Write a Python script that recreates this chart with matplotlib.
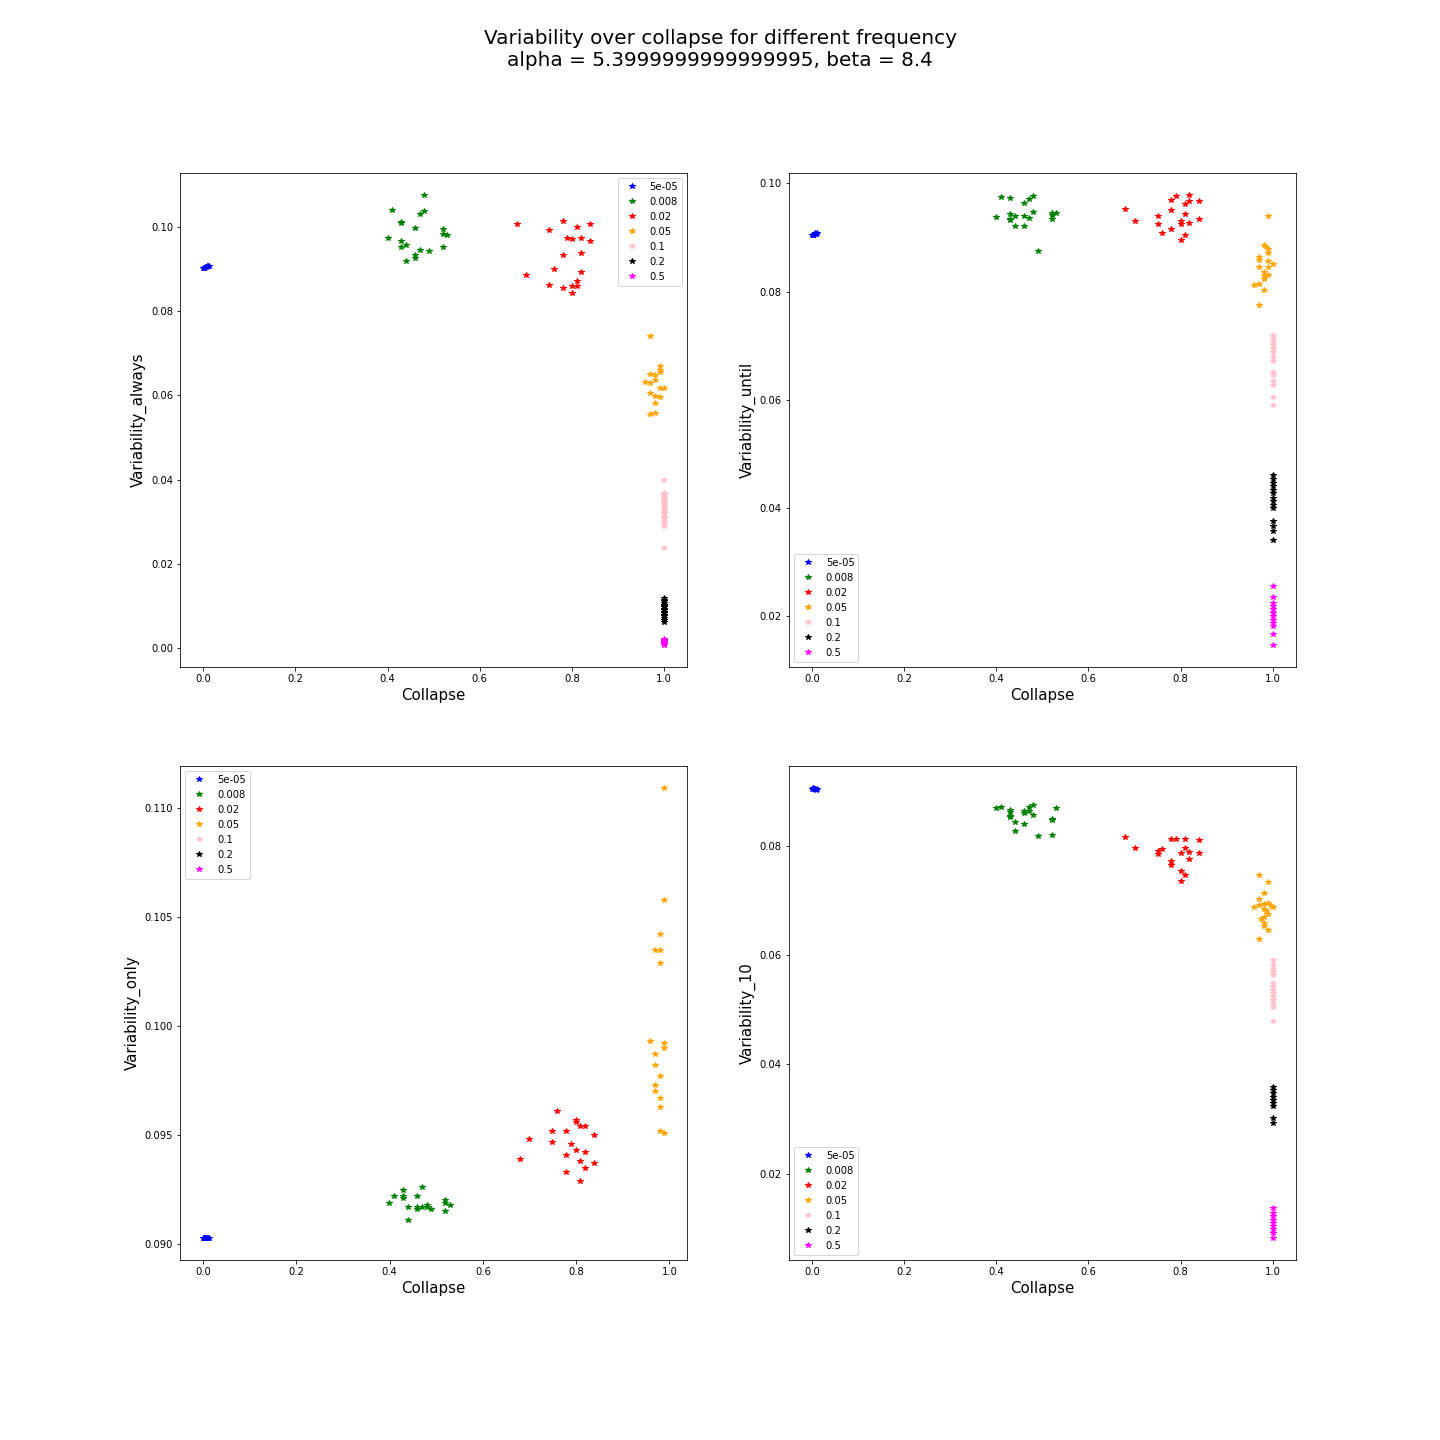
import numpy as np
import matplotlib
matplotlib.use('Agg')
import matplotlib.pyplot as plt

freqs = ['5e-05', '0.008', '0.02', '0.05', '0.1', '0.2', '0.5']
colors = ['blue', 'green', 'red', 'orange', 'pink', 'black', 'magenta']

# ---- Variability_always (top left) ----
always_x_5e05 = [0.0, 0.002, 0.004, 0.006, 0.008, 0.010, 0.012, 0.003]
always_y_5e05 = [0.0903, 0.0904, 0.0905, 0.0906, 0.0907, 0.0908, 0.0909, 0.0904]
always_x_008 = [0.479, 0.410, 0.429, 0.471, 0.479, 0.460, 0.521, 0.521, 0.529, 0.401,
                0.429, 0.429, 0.440, 0.471, 0.490, 0.521, 0.460, 0.460, 0.440, 0.429]
always_y_008 = [0.1076, 0.1040, 0.1013, 0.1032, 0.1038, 0.0998, 0.0995, 0.0984, 0.0982, 0.0974,
                0.0967, 0.0953, 0.0958, 0.0946, 0.0943, 0.0953, 0.0934, 0.0928, 0.0919, 0.1011]
always_x_02 = [0.680, 0.780, 0.750, 0.811, 0.839, 0.790, 0.800, 0.819, 0.839, 0.780,
               0.819, 0.761, 0.700, 0.819, 0.750, 0.780, 0.811, 0.800, 0.811, 0.800]
always_y_02 = [0.1007, 0.1014, 0.0993, 0.1000, 0.1007, 0.0974, 0.0972, 0.0974, 0.0967, 0.0934,
               0.0939, 0.0900, 0.0886, 0.0893, 0.0863, 0.0855, 0.0872, 0.0860, 0.0860, 0.0844]
always_x_05 = [0.970, 0.991, 0.991, 0.991, 0.970, 0.980, 0.959, 0.970, 0.980, 0.991,
               1.000, 0.970, 0.980, 0.991, 0.980, 0.970, 0.980]
always_y_05 = [0.0742, 0.0669, 0.0660, 0.0655, 0.0650, 0.0648, 0.0631, 0.0629, 0.0636, 0.0619,
               0.0619, 0.0607, 0.0598, 0.0596, 0.0581, 0.0555, 0.0558]
always_y_1 = [0.0400, 0.0369, 0.0366, 0.0363, 0.0357, 0.0355, 0.0349, 0.0347, 0.0341, 0.0339,
              0.0333, 0.0331, 0.0326, 0.0321, 0.0318, 0.0312, 0.0309, 0.0301, 0.0296, 0.0290, 0.0237]
always_y_2 = [0.0118, 0.0114, 0.0111, 0.0107, 0.0103, 0.0100, 0.0097, 0.0093, 0.0090, 0.0086,
              0.0083, 0.0079, 0.0075, 0.0071, 0.0066, 0.0061]
always_y_5 = [0.0022, 0.0019, 0.0017, 0.0015, 0.0013, 0.0012, 0.0010, 0.0009, 0.0008]

# ---- Variability_until (top right) ----
until_x_5e05 = [0.0, 0.002, 0.004, 0.006, 0.008, 0.010, 0.012, 0.003]
until_y_5e05 = [0.0904, 0.0905, 0.0906, 0.0907, 0.0908, 0.0906, 0.0909, 0.0905]
until_x_008 = [0.410, 0.429, 0.460, 0.470, 0.479, 0.399, 0.429, 0.429, 0.429, 0.440,
               0.460, 0.470, 0.479, 0.440, 0.460, 0.520, 0.520, 0.529, 0.520, 0.490]
until_y_008 = [0.0975, 0.0973, 0.0964, 0.0971, 0.0977, 0.0938, 0.0943, 0.0934, 0.0932, 0.0939,
               0.0940, 0.0936, 0.0947, 0.0921, 0.0921, 0.0946, 0.0942, 0.0945, 0.0934, 0.0875]
until_x_02 = [0.679, 0.700, 0.750, 0.750, 0.759, 0.778, 0.778, 0.789, 0.809, 0.819,
              0.819, 0.839, 0.809, 0.800, 0.800, 0.819, 0.839, 0.778, 0.809, 0.800]
until_y_02 = [0.0952, 0.0930, 0.0940, 0.0924, 0.0908, 0.0969, 0.0950, 0.0976, 0.0962, 0.0978,
              0.0967, 0.0967, 0.0943, 0.0930, 0.0924, 0.0926, 0.0934, 0.0915, 0.0905, 0.0895]
until_x_05 = [0.989, 0.980, 0.984, 0.989, 0.989, 0.969, 0.969, 0.989, 1.000, 0.969,
              0.989, 0.980, 0.989, 0.980, 0.980, 0.958, 0.969, 0.980, 0.969]
until_y_05 = [0.0940, 0.0887, 0.0883, 0.0878, 0.0872, 0.0864, 0.0859, 0.0856, 0.0851, 0.0845,
              0.0845, 0.0837, 0.0831, 0.0828, 0.0823, 0.0812, 0.0814, 0.0803, 0.0775]
until_y_1 = [0.0720, 0.0714, 0.0708, 0.0701, 0.0695, 0.0689, 0.0680, 0.0671, 0.0652, 0.0646,
             0.0634, 0.0628, 0.0606, 0.0591]
until_y_2 = [0.0462, 0.0453, 0.0446, 0.0440, 0.0434, 0.0428, 0.0419, 0.0413, 0.0406, 0.0400,
             0.0376, 0.0367, 0.0357, 0.0342]
until_y_5 = [0.0257, 0.0236, 0.0225, 0.0219, 0.0213, 0.0207, 0.0201, 0.0194, 0.0188, 0.0182,
             0.0167, 0.0148]

# ---- Variability_only (bottom left) ----
only_x_5e05 = [0.0, 0.002, 0.004, 0.006, 0.008, 0.010, 0.012, 0.003]
only_y_5e05 = [0.0903, 0.0903, 0.0903, 0.0903, 0.0903, 0.0903, 0.0903, 0.0903]
only_x_008 = [0.399, 0.410, 0.429, 0.429, 0.429, 0.440, 0.440, 0.459, 0.459, 0.459,
              0.470, 0.470, 0.481, 0.481, 0.489, 0.519, 0.519, 0.530, 0.519]
only_y_008 = [0.0919, 0.0922, 0.0925, 0.0922, 0.0921, 0.0917, 0.0911, 0.0922, 0.0917, 0.0916,
              0.0926, 0.0917, 0.0918, 0.0917, 0.0916, 0.0920, 0.0919, 0.0918, 0.0915]
only_x_02 = [0.760, 0.800, 0.800, 0.809, 0.820, 0.749, 0.779, 0.700, 0.749, 0.790,
             0.779, 0.800, 0.820, 0.839, 0.680, 0.809, 0.820, 0.839, 0.779, 0.809]
only_y_02 = [0.0961, 0.0957, 0.0956, 0.0954, 0.0954, 0.0952, 0.0952, 0.0948, 0.0947, 0.0946,
             0.0941, 0.0943, 0.0942, 0.0950, 0.0939, 0.0938, 0.0935, 0.0937, 0.0933, 0.0929]
only_x_05 = [0.989, 0.989, 0.981, 0.970, 0.981, 0.981, 0.959, 0.989, 0.989, 0.970,
             0.970, 0.981, 0.970, 0.970, 0.981, 0.981, 0.981, 0.989]
only_y_05 = [0.1109, 0.1058, 0.1042, 0.1035, 0.1035, 0.1029, 0.0993, 0.0992, 0.0990, 0.0987,
             0.0982, 0.0977, 0.0973, 0.0970, 0.0967, 0.0963, 0.0952, 0.0951]
only_y_1 = []
only_y_2 = []
only_y_5 = []

# ---- Variability_10 (bottom right) ----
ten_x_5e05 = [0.0, 0.002, 0.004, 0.006, 0.008, 0.010, 0.012, 0.003]
ten_y_5e05 = [0.0904, 0.0905, 0.0904, 0.0903, 0.0903, 0.0902, 0.0903, 0.0905]
ten_x_008 = [0.399, 0.410, 0.429, 0.429, 0.429, 0.429, 0.440, 0.440, 0.460, 0.460,
             0.460, 0.470, 0.470, 0.479, 0.479, 0.490, 0.520, 0.520, 0.520, 0.529]
ten_y_008 = [0.0869, 0.0871, 0.0866, 0.0861, 0.0855, 0.0852, 0.0843, 0.0826, 0.0864, 0.0859,
             0.0840, 0.0870, 0.0863, 0.0875, 0.0857, 0.0817, 0.0849, 0.0847, 0.0820, 0.0869]
ten_x_02 = [0.679, 0.700, 0.750, 0.750, 0.759, 0.778, 0.789, 0.809, 0.839, 0.778,
            0.778, 0.800, 0.809, 0.819, 0.839, 0.819, 0.800, 0.809, 0.800]
ten_y_02 = [0.0815, 0.0795, 0.0791, 0.0785, 0.0793, 0.0812, 0.0812, 0.0813, 0.0810, 0.0772,
            0.0765, 0.0786, 0.0795, 0.0788, 0.0786, 0.0775, 0.0753, 0.0746, 0.0736]
ten_x_05 = [0.969, 0.989, 0.980, 0.969, 0.958, 0.969, 0.980, 0.989, 1.000, 0.980,
            0.989, 0.980, 0.980, 0.980, 0.989, 0.969, 0.984, 0.975, 0.995]
ten_y_05 = [0.0747, 0.0734, 0.0714, 0.0702, 0.0687, 0.0691, 0.0694, 0.0695, 0.0687, 0.0685,
            0.0675, 0.0670, 0.0658, 0.0653, 0.0646, 0.0630, 0.0680, 0.0665, 0.0690]
ten_y_1 = [0.0590, 0.0581, 0.0575, 0.0569, 0.0563, 0.0548, 0.0542, 0.0536, 0.0530, 0.0523,
           0.0517, 0.0511, 0.0505, 0.0479]
ten_y_2 = [0.0359, 0.0353, 0.0347, 0.0341, 0.0335, 0.0329, 0.0323, 0.0302, 0.0292]
ten_y_5 = [0.0137, 0.0128, 0.0122, 0.0116, 0.0110, 0.0104, 0.0098, 0.0092, 0.0083]


def panel(xa, ya, xb, yb, xc, yc, xd, yd, y1, y2, y5):
    ones = lambda v: [1.0] * len(v)
    return [(xa, ya), (xb, yb), (xc, yc), (xd, yd),
            (ones(y1), y1), (ones(y2), y2), (ones(y5), y5)]


panels = [
    ('Variability_always', 'upper right',
     panel(always_x_5e05, always_y_5e05, always_x_008, always_y_008, always_x_02, always_y_02,
           always_x_05, always_y_05, always_y_1, always_y_2, always_y_5)),
    ('Variability_until', 'lower left',
     panel(until_x_5e05, until_y_5e05, until_x_008, until_y_008, until_x_02, until_y_02,
           until_x_05, until_y_05, until_y_1, until_y_2, until_y_5)),
    ('Variability_only', 'upper left',
     panel(only_x_5e05, only_y_5e05, only_x_008, only_y_008, only_x_02, only_y_02,
           only_x_05, only_y_05, only_y_1, only_y_2, only_y_5)),
    ('Variability_10', 'lower left',
     panel(ten_x_5e05, ten_y_5e05, ten_x_008, ten_y_008, ten_x_02, ten_y_02,
           ten_x_05, ten_y_05, ten_y_1, ten_y_2, ten_y_5)),
]

fig, axes = plt.subplots(2, 2, figsize=(20, 20), dpi=72)
fig.subplots_adjust(left=0.125, right=0.9, bottom=0.125, top=0.88, wspace=0.2, hspace=0.2)
fig.suptitle('Variability over collapse for different frequency\nalpha = 5.3999999999999995, beta = 8.4',
             fontsize=20)

for ax, (ylabel, loc, series) in zip(axes.flat, panels):
    for (xs, ys), f, c in zip(series, freqs, colors):
        ax.plot(xs, ys, '*', color=c, label=f)
    ax.set_xlabel('Collapse', fontsize=15)
    ax.set_ylabel(ylabel, fontsize=15)
    ax.legend(loc=loc)

plt.savefig('out.png', dpi=72)
